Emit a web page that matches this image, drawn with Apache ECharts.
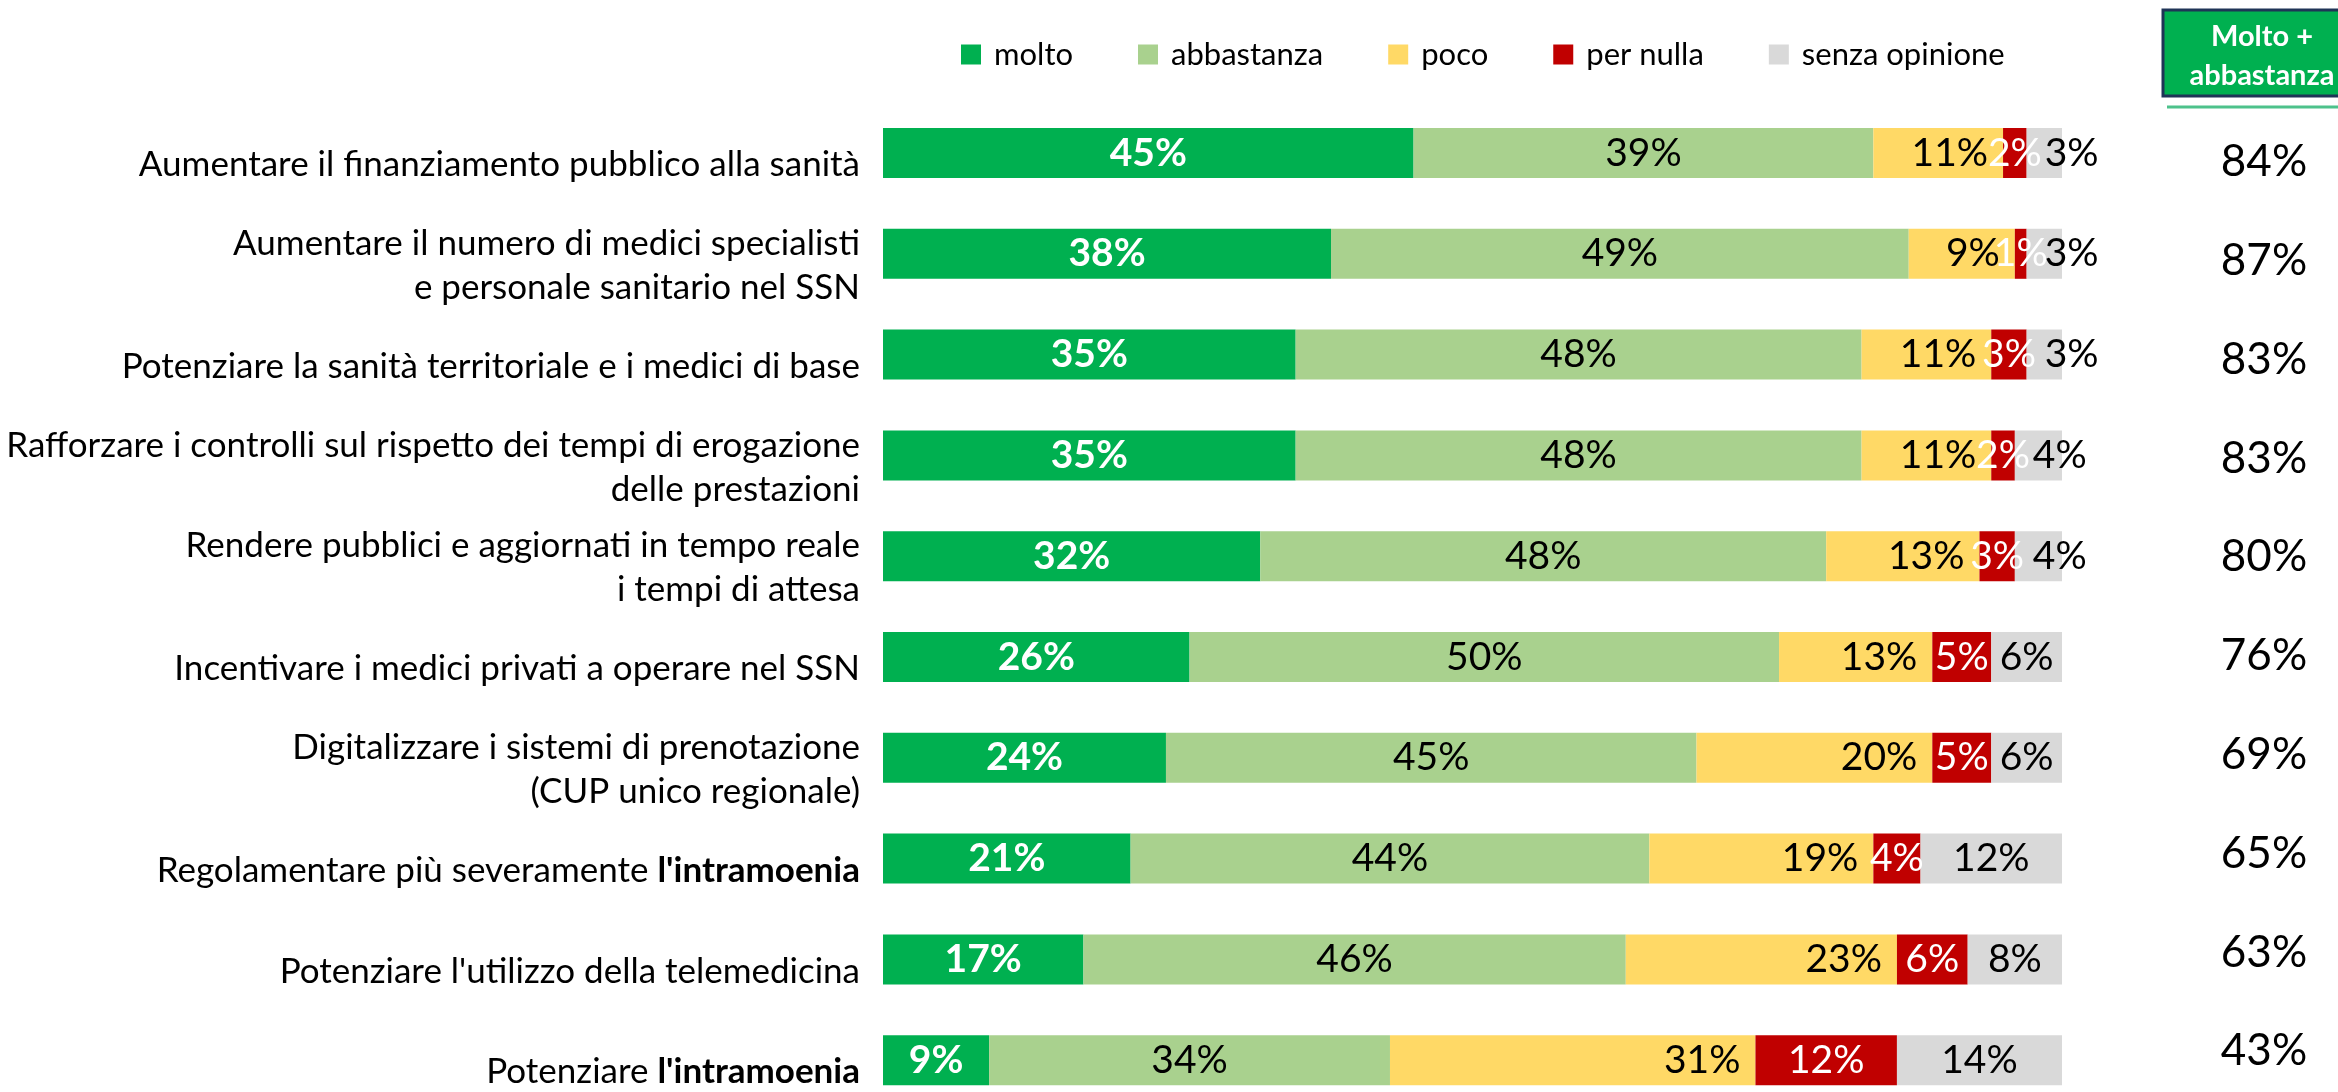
<!DOCTYPE html>
<html><head><meta charset="utf-8">
<script src="https://cdn.jsdelivr.net/npm/echarts@6/dist/echarts.min.js"></script>
<style>html,body{margin:0;padding:0;background:#fff}#c{width:2338px;height:1092px}</style>
</head><body><div id="c"></div>
<script>
const categories = [
  "Aumentare il finanziamento pubblico alla sanità",
  "Aumentare il numero di medici specialisti\ne personale sanitario nel SSN",
  "Potenziare la sanità territoriale e i medici di base",
  "Rafforzare i controlli sul rispetto dei tempi di erogazione\ndelle prestazioni",
  "Rendere pubblici e aggiornati in tempo reale\ni tempi di attesa",
  "Incentivare i medici privati a operare nel SSN",
  "Digitalizzare i sistemi di prenotazione\n(CUP unico regionale)",
  "Regolamentare più severamente l'intramoenia",
  "Potenziare l'utilizzo della telemedicina",
  "Potenziare l'intramoenia"
];
const seriesNames = ["molto", "abbastanza", "poco", "per nulla", "senza opinione"];
const molto          = [45, 38, 35, 35, 32, 26, 24, 21, 17, 9];
const abbastanza     = [39, 49, 48, 48, 48, 50, 45, 44, 46, 34];
const poco           = [11, 9, 11, 11, 13, 13, 20, 19, 23, 31];
const perNulla       = [2, 1, 3, 2, 3, 5, 5, 4, 6, 12];
const senzaOpinione  = [3, 3, 3, 4, 4, 6, 6, 12, 8, 14];
const moltoPiuAbbastanza = [84, 87, 83, 83, 80, 76, 69, 65, 63, 43];
const headerText = "Molto +\nabbastanza";
const boldPhrase = "l'intramoenia";

const FONT = 'Lato';
const colors = ['#00B050', '#A9D18E', '#FFD966', '#C00000', '#D9D9D9'];

function barSeries(name, data, color, labelOpt) {
  return {
    name: name, type: 'bar', stack: 'tot', data: data, barWidth: 50,
    itemStyle: { color: color },
    label: Object.assign({ show: true, formatter: '{c}%', fontFamily: FONT, fontSize: 39, color: '#000' }, labelOpt),
    emphasis: { disabled: true },
    xAxisIndex: 0, yAxisIndex: 0
  };
}

const senzaData = senzaOpinione.map(v => v < 5
  ? { value: v, label: { position: 'insideLeft', distance: 18 } }
  : v);

const chart = echarts.init(document.getElementById('c'), null, { renderer: 'canvas' });
chart.setOption({
  animation: false,
  backgroundColor: '#fff',
  legend: {
    data: seriesNames, left: 956, top: 34,
    icon: 'rect', itemWidth: 20, itemHeight: 20, itemGap: 65,
    textStyle: { fontFamily: FONT, fontSize: 31, color: '#000', padding: [0, 0, 0, 8] },
    selectedMode: false
  },
  grid: [
    { left: 883, right: 276, top: 102.6, height: 1008, containLabel: false, outerBoundsMode: 'none' },
    { left: 2200, right: 74, top: 112.6, height: 988, containLabel: false, outerBoundsMode: 'none' }
  ],
  xAxis: [
    { type: 'value', min: 0, max: 100, show: false, gridIndex: 0 },
    { type: 'value', min: 0, max: 1, show: false, gridIndex: 1 }
  ],
  yAxis: [
    {
      type: 'category', data: categories, inverse: true, gridIndex: 0,
      axisLine: { show: false }, axisTick: { show: false }, splitLine: { show: false },
      axisLabel: {
        margin: 23, fontFamily: FONT, fontSize: 35, color: '#000', lineHeight: 44,
        align: 'right', padding: [24, 0, 0, 0],
        formatter: v => v.split(boldPhrase).join('{b|' + boldPhrase + '}'),
        rich: { b: { fontFamily: FONT, fontSize: 35, fontWeight: 'bold', color: '#000', lineHeight: 44 } }
      }
    },
    {
      type: 'category', data: moltoPiuAbbastanza.map(v => v + '%'), inverse: true, gridIndex: 1,
      position: 'right',
      axisLine: { show: false }, axisTick: { show: false }, splitLine: { show: false },
      axisLabel: { margin: 0, align: 'center', fontFamily: FONT, fontSize: 44, color: '#000' }
    }
  ],
  series: [
    barSeries(seriesNames[0], molto, colors[0], { position: 'inside', color: '#fff', fontWeight: 'bold' }),
    barSeries(seriesNames[1], abbastanza, colors[1], { position: 'inside' }),
    barSeries(seriesNames[2], poco, colors[2], { position: 'insideRight', distance: 15 }),
    barSeries(seriesNames[3], perNulla, colors[3], { position: 'inside', color: '#fff' }),
    barSeries(seriesNames[4], senzaData, colors[4], { position: 'inside' })
  ],
  graphic: [
    { type: 'rect', shape: { x: 2163, y: 10, width: 230, height: 86 },
      style: { fill: '#00B050', stroke: '#1F3457', lineWidth: 3 } },
    { type: 'text', x: 2262, y: 56,
      style: { text: headerText, fill: '#fff', fontFamily: FONT, fontSize: 29, fontWeight: 'bold',
               align: 'center', verticalAlign: 'middle', lineHeight: 39 } },
    { type: 'line', shape: { x1: 2167, y1: 107, x2: 2338, y2: 107 },
      style: { stroke: '#4DC28B', lineWidth: 3 } }
  ]
});
</script></body></html>
